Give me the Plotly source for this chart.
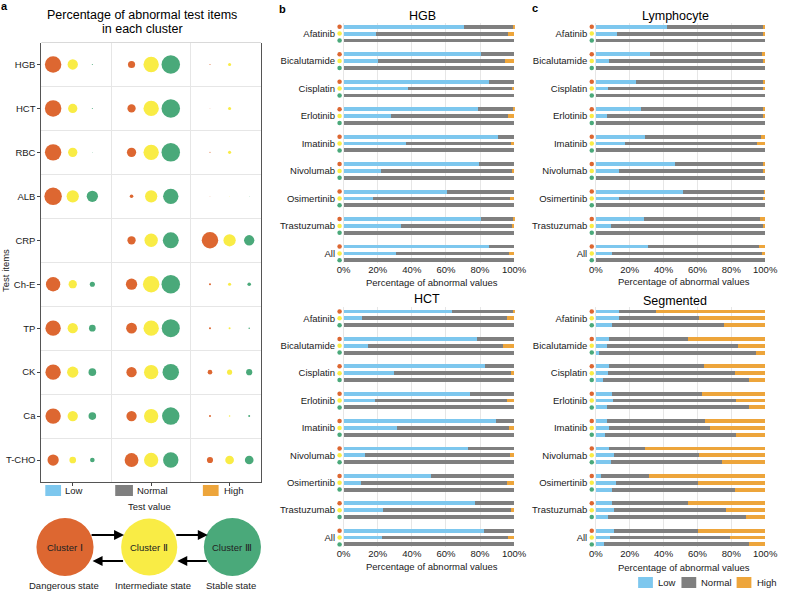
import plotly.graph_objects as go

W, H = 788, 592
FONT = "Liberation Sans, Arial, sans-serif"
TXT = "#1a1a1a"

# ---------------- Panel a data ----------------
items = ["HGB", "HCT", "RBC", "ALB", "CRP", "Ch-E", "TP", "CK", "Ca", "T-CHO"]
test_values = ["Low", "Normal", "High"]
cluster_names = ["Cluster Ⅰ", "Cluster Ⅱ", "Cluster Ⅲ"]
state_names = ["Dangerous state", "Intermediate state", "Stable state"]
# percentage of abnormal test items per cluster: [Low, Normal, High]
pct_cluster_1 = [[79, 15, 0.3], [79, 20, 0.1], [79, 25, 0.3], [89, 3.8, 0.1], [0, 20, 79],
                 [60, 37, 1.2], [69, 34, 1.2], [69, 31, 6.3], [69, 31, 1.2], [37, 56, 11]]
pct_cluster_2 = [[31, 69, 2.8], [25, 69, 2.8], [25, 69, 2.8], [44, 44, 0.1], [0, 52, 44],
                 [20, 79, 2.8], [31, 69, 1.2], [37, 60, 7.7], [31, 60, 0.7], [13, 60, 22]]
pct_cluster_3 = [[0.3, 100, 0], [0.3, 100, 0], [0.1, 100, 0], [37, 69, 0.1], [0, 74, 31],
                 [7.7, 100, 3.8], [13, 95, 0.7], [17, 79, 11], [17, 89, 1.2], [6.3, 69, 22]]

# ---------------- Panels b, c data ----------------
drugs = ["Afatinib", "Bicalutamide", "Cisplatin", "Erlotinib", "Imatinib",
         "Nivolumab", "Osimertinib", "Trastuzumab", "All"]
tick_pct = [0, 20, 40, 60, 80, 100]

hgb_low = [[70.4, 80.3, 85.0, 78.7, 90.3, 79.3, 60.7, 80.3, 85.1],
           [19.0, 20.0, 37.5, 27.9, 36.8, 21.7, 17.4, 33.8, 30.6],
           [0, 0, 0, 0, 0, 0, 0, 0, 0]]
hgb_high = [[0.5, 0, 0, 0.5, 0, 0, 0, 0.3, 0],
            [3.3, 5.6, 1.5, 3.3, 1.9, 1.3, 2.3, 1.5, 2.9],
            [0, 0, 0, 0, 0, 0, 0, 0, 0]]

hct_low = [[63.8, 78.1, 83.2, 73.9, 89.4, 72.9, 51.3, 77.0, 82.4],
           [11.0, 14.3, 29.4, 18.4, 31.3, 12.8, 10.0, 22.8, 22.4],
           [0, 0, 0, 0, 0, 0, 0, 0, 0]]
hct_high = [[0.4, 0, 0, 0, 0, 0, 0, 0, 0],
            [4.4, 6.4, 1.7, 4.4, 2.7, 2.3, 3.9, 2.1, 3.7],
            [0, 0, 0, 0, 0, 0, 0, 0, 0]]

lym_low = [[42.2, 32.0, 23.8, 26.4, 28.9, 46.7, 51.4, 28.7, 31.0],
           [12.6, 7.6, 7.0, 6.4, 17.0, 13.6, 13.8, 8.7, 9.7],
           [0, 0, 0, 0, 0, 0, 0, 0, 0]]
lym_high = [[0.8, 1.7, 1.2, 1.2, 2.3, 1.4, 0.4, 3.1, 3.5],
            [0.6, 1.2, 1.0, 0.6, 4.7, 1.2, 1.0, 1.2, 1.6],
            [0, 0, 0, 0, 0, 0, 0, 0, 0]]

seg_low = [[13.5, 7.9, 7.9, 9.8, 6.4, 7.9, 3.3, 9.3, 11.0],
           [13.5, 6.4, 7.1, 10.4, 7.5, 10.6, 12.2, 11.0, 8.1],
           [9.3, 2.1, 4.4, 6.4, 5.2, 8.7, 9.8, 6.9, 4.6]]
seg_high = [[64.7, 45.4, 35.9, 37.3, 35.7, 70.7, 68.7, 45.6, 39.8],
            [38.8, 16.2, 18.0, 17.4, 32.8, 39.2, 39.8, 22.9, 20.7],
            [24.1, 5.4, 9.8, 9.3, 17.2, 25.3, 17.8, 11.6, 9.3]]

# ---------------- styles ----------------
cluster_colors = ["#DD6731", "#F9EC45", "#4AA97A"]
value_colors = ["#7DC7EE", "#7F7F7F", "#EDA53B"]
GRID = "#E6E6E6"


def px(x):
    return x / W


def py(y):
    return 1 - y / H


fig = go.Figure()

# ---------------- Panel a: bubbles ----------------
offsets = [-0.25, 0.0, 0.25]
for ci, data in enumerate([pct_cluster_1, pct_cluster_2, pct_cluster_3]):
    xs, ys, ss = [], [], []
    for ri, row in enumerate(data):
        for vi, v in enumerate(row):
            xs.append(vi + 1 + offsets[ci])
            ys.append(ri)
            ss.append(v)
    fig.add_trace(go.Scatter(
        x=xs, y=ys, mode="markers", xaxis="x", yaxis="y", showlegend=False,
        marker=dict(size=ss, sizemode="area", sizeref=2 * 100 / 18.5 ** 2,
                    color=cluster_colors[ci], line=dict(width=0), opacity=1),
        name=cluster_names[ci], hoverinfo="skip"))

# ---------------- Panels b, c: stacked bars ----------------
panels = [
    ("HGB", hgb_low, hgb_high, 2, (341.2, 522.9), (22.6, 262.7)),
    ("HCT", hct_low, hct_high, 3, (341.2, 522.9), (307.4, 546.8)),
    ("Lymphocyte", lym_low, lym_high, 4, (597.3, 777.9), (22.6, 262.7)),
    ("Segmented", seg_low, seg_high, 5, (597.3, 777.9), (307.4, 546.8)),
]

for name, low, high, idx, xd, yd in panels:
    ys, lows, norms, highs, dots = [], [], [], [], []
    for g, drug in enumerate(drugs):
        for c in range(3):
            ys.append(g * 4 + c)
            lo = low[c][g]
            hi = high[c][g]
            lows.append(lo)
            highs.append(hi)
            norms.append(100 - lo - hi)
            dots.append(cluster_colors[c])
    for vals, col, lab in zip([lows, norms, highs], value_colors, test_values):
        fig.add_trace(go.Bar(
            x=vals, y=ys, orientation="h", xaxis=f"x{idx}", yaxis=f"y{idx}",
            marker=dict(color=col, line=dict(width=0)), width=0.56,
            showlegend=False, name=lab, hoverinfo="skip", cliponaxis=False))
    fig.add_trace(go.Scatter(
        x=[-2.4] * len(ys), y=ys, mode="markers", xaxis=f"x{idx}", yaxis=f"y{idx}",
        marker=dict(size=4.5, color=dots, line=dict(width=0)),
        showlegend=False, hoverinfo="skip"))
    fig.layout[f"xaxis{idx}"] = dict(
        domain=[px(xd[0]), px(xd[1])], anchor=f"y{idx}", range=[-4.5, 100.5],
        tickvals=tick_pct, ticktext=[f"{t}%" for t in tick_pct],
        showgrid=True, gridcolor=GRID, gridwidth=1, zeroline=False, showline=False,
        ticks="", tickfont=dict(size=9.5, color=TXT, family=FONT), fixedrange=True)
    fig.layout[f"yaxis{idx}"] = dict(
        domain=[py(yd[1]), py(yd[0])], anchor=f"x{idx}", range=[34.35, -0.6],
        tickvals=[g * 4 + 1 for g in range(len(drugs))], ticktext=drugs,
        showgrid=False, zeroline=False, showline=False, ticks="",
        tickfont=dict(size=9.5, color=TXT, family=FONT), fixedrange=True)

fig.update_layout(
    width=W, height=H, margin=dict(l=0, r=0, t=0, b=0),
    paper_bgcolor="white", plot_bgcolor="white", barmode="stack",
    font=dict(family=FONT, color=TXT, size=9.5),
    xaxis=dict(domain=[px(42), px(265)], anchor="y", range=[0.6, 3.4],
               tickvals=[1, 2, 3], showticklabels=False, ticks="outside", ticklen=3,
               tickcolor="#444", showgrid=False, zeroline=False,
               showline=True, linecolor="#555", linewidth=1,
               minor=dict(tickvals=[1.5, 2.5], showgrid=True, gridcolor=GRID, gridwidth=1)),
    yaxis=dict(domain=[py(482), py(42.5)], anchor="x", range=[9.5, -0.5],
               tickvals=list(range(len(items))), ticktext=items,
               ticks="outside", ticklen=3, tickcolor="#444", showgrid=False, zeroline=False,
               showline=True, mirror=True, linecolor="#555", linewidth=1,
               tickfont=dict(size=9.5, color=TXT, family=FONT),
               minor=dict(tickvals=[i + 0.5 for i in range(len(items) - 1)],
                          showgrid=True, gridcolor=GRID, gridwidth=1)),
)

shapes = []
annotations = []

# top border of panel a
shapes.append(dict(type="line", xref="paper", yref="paper", x0=px(42), x1=px(265),
                   y0=py(42.5), y1=py(42.5), line=dict(color="#D9D9D9", width=1)))


def text(x, y, s, size=9.5, bold=False, xanchor="center", angle=0, color=TXT):
    annotations.append(dict(
        x=px(x), y=py(y), xref="paper", yref="paper", text=f"<b>{s}</b>" if bold else s,
        showarrow=False, xanchor=xanchor, yanchor="middle", textangle=angle,
        font=dict(size=size, color=color, family=FONT)))


# panel labels
text(4.5, 6, "a", size=11, bold=True, color="black")
text(286.5, 9, "b", size=11, bold=True, color="black")
text(543, 8, "c", size=11, bold=True, color="black")

# panel a titles
text(144, 15, "Percentage of abnormal test items", size=12.5, color="black")
text(145, 29, "in each cluster", size=12.5, color="black")
text(5, 270, "Test items", size=9.5, angle=-90)
text(151.7, 506.7, "Test value", size=9.5)

# panel a legend
for (x0, x1, tx), col, lab in zip([(46, 62, 64), (117, 135, 137), (206, 222, 225)],
                                  value_colors, test_values):
    shapes.append(dict(type="rect", xref="paper", yref="paper", x0=px(x0), x1=px(x1),
                       y0=py(496), y1=py(485), fillcolor=col, line=dict(width=0)))
    text(tx, 490.5, lab, xanchor="left")

# segmented legend
for (x0, x1, tx), col, lab in zip([(648, 663, 666), (692, 707, 710), (748, 763, 767)],
                                  value_colors, test_values):
    shapes.append(dict(type="rect", xref="paper", yref="paper", x0=px(x0), x1=px(x1),
                       y0=py(588), y1=py(577), fillcolor=col, line=dict(width=0)))
    text(tx, 582.5, lab, xanchor="left")

# bar panel titles
text(428.7, 15.5, "HGB", size=12.5, color="black")
text(685.5, 15.5, "Lymphocyte", size=12.5, color="black")
text(434, 298.5, "HCT", size=12.5, color="black")
text(685, 300.5, "Segmented", size=12.5, color="black")
text(438.8, 282, "Percentage of abnormal values")
text(438.8, 566.5, "Percentage of abnormal values")
text(695, 281, "Percentage of abnormal values")
text(695, 567, "Percentage of abnormal values")

# cluster state diagram
centers = [(66, 547, 29), (151.5, 547, 28.5), (236, 547, 29)]
label_x = [64.7, 155.7, 235]
for (cx, cy, r), col, cname, sname, lx in zip(centers, cluster_colors, cluster_names,
                                              state_names, label_x):
    shapes.append(dict(type="circle", xref="paper", yref="paper",
                       x0=px(cx - r), x1=px(cx + r), y0=py(cy + r), y1=py(cy - r),
                       fillcolor=col, line=dict(width=0)))
    text(cx, cy, cname, size=9.5, color="#222")
    text(lx, 585, sname, size=9.5, color="#222")

for (x_head, x_tail, y) in [(126, 92, 535), (211, 178, 535), (94, 126, 561), (180, 211, 561)]:
    annotations.append(dict(
        x=px(x_head), y=py(y), xref="paper", yref="paper", ax=x_tail - x_head, ay=0,
        axref="pixel", ayref="pixel", text="", showarrow=True, arrowhead=2,
        arrowsize=1, arrowwidth=2, arrowcolor="black", standoff=0, startstandoff=0))

fig.update_layout(shapes=shapes, annotations=annotations)
fig.write_html("out.html")
